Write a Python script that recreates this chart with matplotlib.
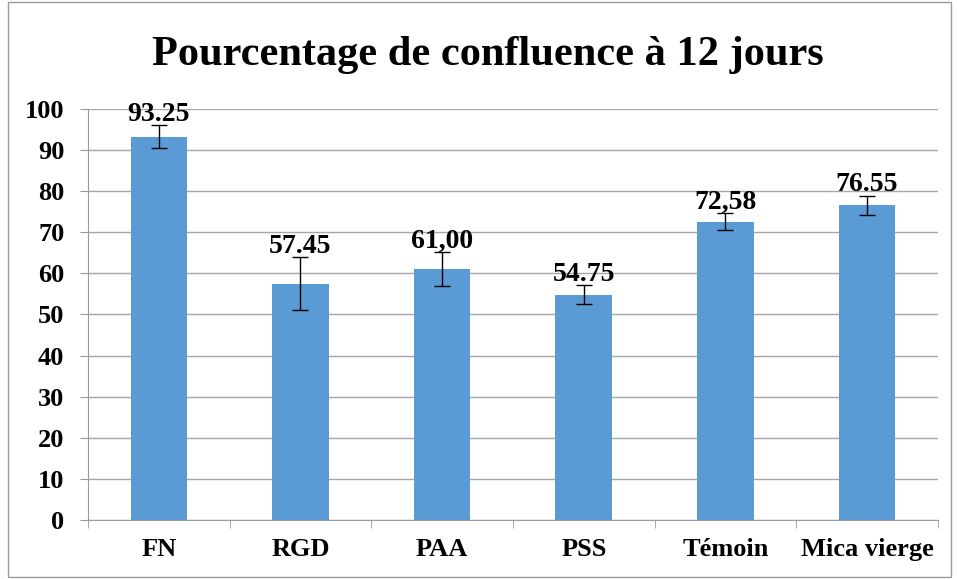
import matplotlib.pyplot as plt
from matplotlib.patches import Rectangle

categories = ['FN', 'RGD', 'PAA', 'PSS', 'Témoin', 'Mica vierge']
values = [93.25, 57.45, 61.00, 54.75, 72.58, 76.55]
errors = [2.75, 6.4, 4.1, 2.3, 2.0, 2.3]
labels = ['93.25', '57.45', '61,00', '54.75', '72,58', '76.55']

plt.rcParams['font.family'] = ['Liberation Serif', 'DejaVu Serif']

fig = plt.figure(figsize=(9.57, 5.79), dpi=100)
ax = fig.add_axes([0.092, 0.102, 0.888, 0.71])

# chart border
fig.patches.append(Rectangle((0.008, 0.004), 0.986, 0.992, transform=fig.transFigure,
                             fill=False, edgecolor='#9a9a9a', linewidth=1.0))

x = range(len(categories))
ax.bar(x, values, width=0.4, color='#5b9bd5', zorder=2)
ax.errorbar(x, values, yerr=errors, fmt='none', ecolor='black', elinewidth=1.0,
            capsize=6, capthick=1.0, zorder=3)

for i, (v, e, lab) in enumerate(zip(values, errors, labels)):
    ax.annotate(lab, (i, v + e), xytext=(0, -1), textcoords='offset points',
                ha='center', va='bottom', fontsize=20, fontweight='bold')

ax.set_ylim(0, 100)
ax.set_xlim(-0.5, len(categories) - 0.5)
ax.set_yticks(range(0, 101, 10))
ax.yaxis.grid(True, color='#a6a6a6', linewidth=1.0, zorder=0)
ax.set_axisbelow(True)

ax.set_xticks(x)
ax.set_xticklabels(categories, fontsize=19, fontweight='bold')
ax.set_xticks([i - 0.5 for i in range(len(categories) + 1)], minor=True)
ax.tick_params(axis='x', which='major', length=0, pad=13)
ax.tick_params(axis='x', which='minor', length=6, color='#9a9a9a', direction='out')
ax.tick_params(axis='y', length=6, color='#9a9a9a', labelsize=19, pad=11)
for t in ax.get_yticklabels():
    t.set_fontweight('bold')

for side in ['top', 'right']:
    ax.spines[side].set_visible(False)
ax.spines['left'].set_color('#9a9a9a')
ax.spines['bottom'].set_color('#9a9a9a')

fig.text(0.510, 0.905, 'Pourcentage de confluence à 12 jours', ha='center', va='center',
         fontsize=30.5, fontweight='bold')

fig.savefig('out.png', dpi=100)
